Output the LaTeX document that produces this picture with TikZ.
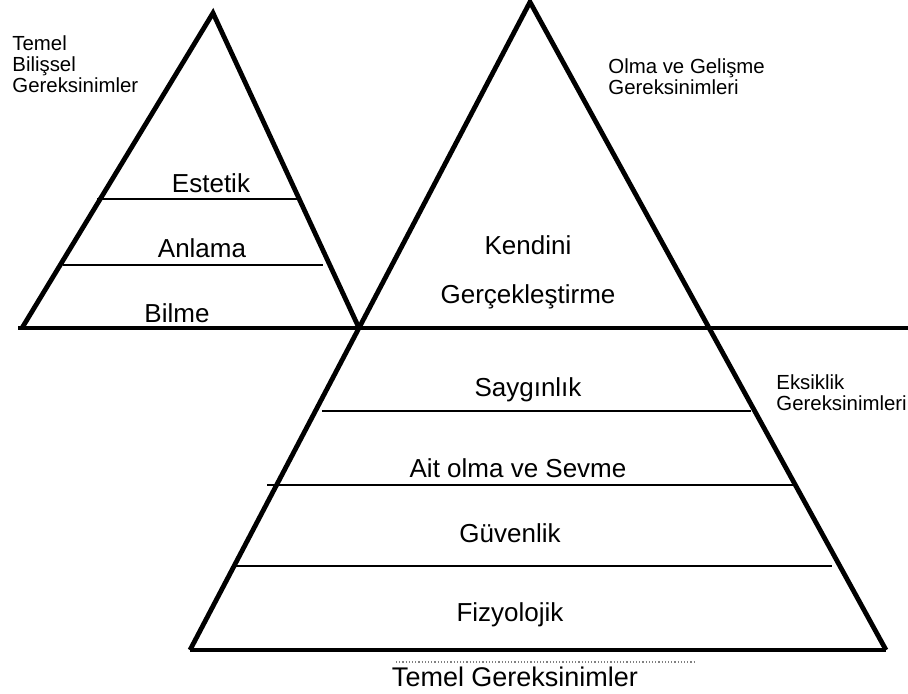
\documentclass[tikz,border=0pt]{standalone}
\usepackage{fontspec}
\setmainfont{Liberation Sans}
\begin{document}
\begin{tikzpicture}[x=0.5pt, y=-0.5pt,
    side/.style ={line width=2.4pt, line join=miter},
    level/.style ={line width=1pt},
    floor/.style ={line width=1.9pt},
    need/.style ={font=\fontsize{13}{15}\selectfont},
    group/.style ={font=\fontsize{10.2}{10.5}\selectfont, align=left, anchor=west, inner sep=0pt}]
   \useasboundingbox (0,0) rectangle (908,693);
   % corners
   \coordinate (top) at (530,2);
   \coordinate (bl) at (190,650);
   \coordinate (br) at (886,650);
   \coordinate (ktop) at (213,13);
   \coordinate (kl) at (22,328);
   \coordinate (kr) at (359,328);
   \coordinate (h1) at (18,328);
   \coordinate (h2) at (908,328);
   % the two pyramids
   \draw[side] (kl) -- (ktop) -- (kr);
   \draw[side] (bl) -- (top) -- (br);
   \draw[floor] (h1) -- (h2);
   \draw[floor] (bl) -- (br);
   \draw[level] (97,199) -- (298,199);
   \draw[level] (63,265) -- (323,265);
   \draw[level] (322,411) -- (751,411);
   \draw[level] (267,485) -- (793,485);
   \draw[level] (232,566) -- (832,566);
   \draw[gray, densely dotted, line width=0.6pt] (396,662) -- (696,662);
   % steps
   \node[need] (estetik) at (211,183) {Estetik};
   \node[need] (anlama) at (202,248) {Anlama};
   \node[need] (bilme) at (177,313) {Bilme};
   \node[need] (kendini) at (528,245) {Kendini};
   \node[need] (gercek) at (528,297) {Gerçekleştirme};
   \node[need] (saygi) at (528,390) {Saygınlık};
   \node[need] (ait) at (518,468) {Ait olma ve Sevme};
   \node[need] (guven) at (510,533) {Güvenlik};
   \node[need] (fizyo) at (510,615) {Fizyolojik};
   \node[need, font=\fontsize{13.5}{15}\selectfont] (temel) at (515,677) {Temel Gereksinimler};
   % groups
   \node[group] (bilissel) at (12,64) {Temel\\Bilişsel\\Gereksinimler};
   \node[group] (olma) at (608,77) {Olma ve Gelişme\\Gereksinimleri};
   \node[group] (eksik) at (776,393) {Eksiklik\\Gereksinimleri};
\end{tikzpicture}
\end{document}
